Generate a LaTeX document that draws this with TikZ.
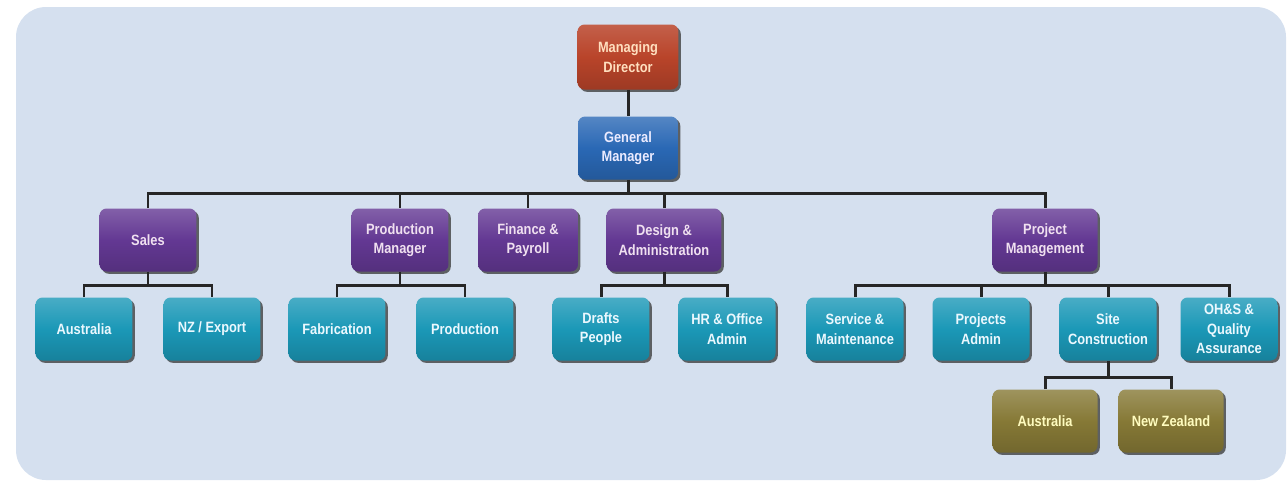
\documentclass[tikz,border=0pt]{standalone}
\usepackage{fontspec}
\newfontfamily\orgfont[FakeStretch=0.86]{Liberation Sans}
\usetikzlibrary{shadows}

\definecolor{bgblue}{HTML}{D5E0EF}
\definecolor{mdred}{HTML}{B9442A}
\definecolor{gmblue}{HTML}{2A68B5}
\definecolor{deptpurple}{HTML}{633893}
\definecolor{unitcyan}{HTML}{1B98B7}
\definecolor{siteolive}{HTML}{867936}

\tikzset{
  orgbox/.style={rounded corners=4pt, minimum width=1.94cm, minimum height=1.26cm,
    align=center, inner sep=1pt, font=\orgfont\bfseries\fontsize{8.5}{11}\selectfont,
    drop shadow={shadow xshift=1.3pt, shadow yshift=-1.3pt, fill=black!75, opacity=.8}},
  redbox/.style={orgbox, top color=mdred!85!white, bottom color=mdred!85!black, middle color=mdred, text=orange!25!white},
  bluebox/.style={orgbox, top color=gmblue!80!white, bottom color=gmblue!85!black, middle color=gmblue, text=white!92!blue},
  purplebox/.style={orgbox, top color=deptpurple!80!white, bottom color=deptpurple!85!black, middle color=deptpurple, text=white!88!violet},
  cyanbox/.style={orgbox, top color=unitcyan!80!white, bottom color=unitcyan!85!black, middle color=unitcyan, text=white!92!cyan},
  olivebox/.style={orgbox, minimum width=2.1cm, top color=siteolive!80!white, bottom color=siteolive!85!black, middle color=siteolive, text=yellow!25!white},
  link/.style={line width=1.7pt, black!85}
}

\begin{document}
\begin{tikzpicture}[x=0.02cm, y=-0.02cm]
  \useasboundingbox (0,0) rectangle (1288,485);
  \fill[bgblue, rounded corners=0.6cm] (16,7) rectangle (1286,480);

  % bus levels
  \coordinate (topbus) at (0,193);
  \coordinate (subbus) at (0,285);
  \coordinate (sitebus) at (0,377);

  \node[redbox, minimum height=1.3cm, minimum width=2.02cm] (md) at (628,57) {Managing\\Director};
  \node[bluebox, minimum width=2cm] (gm) at (628,148) {General\\Manager};

  \node[purplebox] (sales) at (148,240) {Sales};
  \node[purplebox] (prodman) at (400,240) {Production\\Manager};
  \node[purplebox, minimum width=2cm] (finance) at (528,240) {Finance \&\\Payroll};
  \node[purplebox, minimum width=2.3cm] (design) at (664,240) {Design \&\\Administration};
  \node[purplebox, minimum width=2.1cm] (project) at (1045,240) {Project\\Management};

  \node[cyanbox] (aus) at (84,329) {Australia};
  \node[cyanbox] (nz) at (212,329) {NZ / Export};
  \node[cyanbox] (fab) at (337,329) {Fabrication};
  \node[cyanbox] (prod) at (465,329) {Production};
  \node[cyanbox] (drafts) at (601,329) {Drafts\\People};
  \node[cyanbox] (hr) at (727,329) {HR \& Office\\Admin};
  \node[cyanbox] (service) at (855,329) {Service \&\\Maintenance};
  \node[cyanbox] (padmin) at (981,329) {Projects\\Admin};
  \node[cyanbox] (site) at (1108,329) {Site\\Construction};
  \node[cyanbox] (ohs) at (1229,329) {OH\&S \&\\Quality\\Assurance};

  \node[olivebox] (siteaus) at (1045,421) {Australia};
  \node[olivebox] (sitenz) at (1171,421) {New Zealand};

  \draw[link] (md) -- (gm);
  \draw[link] (gm.south) -- (gm.south |- topbus);
  \draw[link] (sales.north) |- (project.north |- topbus) -- (project.north);
  \draw[link] (prodman.north) -- (prodman.north |- topbus);
  \draw[link] (finance.north) -- (finance.north |- topbus);
  \draw[link] (design.north) -- (design.north |- topbus);

  \draw[link] (sales.south) -- (sales.south |- subbus);
  \draw[link] (aus.north) |- (nz.north |- subbus) -- (nz.north);
  \draw[link] (prodman.south) -- (prodman.south |- subbus);
  \draw[link] (fab.north) |- (prod.north |- subbus) -- (prod.north);
  \draw[link] (design.south) -- (design.south |- subbus);
  \draw[link] (drafts.north) |- (hr.north |- subbus) -- (hr.north);
  \draw[link] (project.south) -- (project.south |- subbus);
  \draw[link] (service.north) |- (ohs.north |- subbus) -- (ohs.north);
  \draw[link] (padmin.north) -- (padmin.north |- subbus);
  \draw[link] (site.north) -- (site.north |- subbus);

  \draw[link] (site.south) -- (site.south |- sitebus);
  \draw[link] (siteaus.north) |- (sitenz.north |- sitebus) -- (sitenz.north);
\end{tikzpicture}
\end{document}
